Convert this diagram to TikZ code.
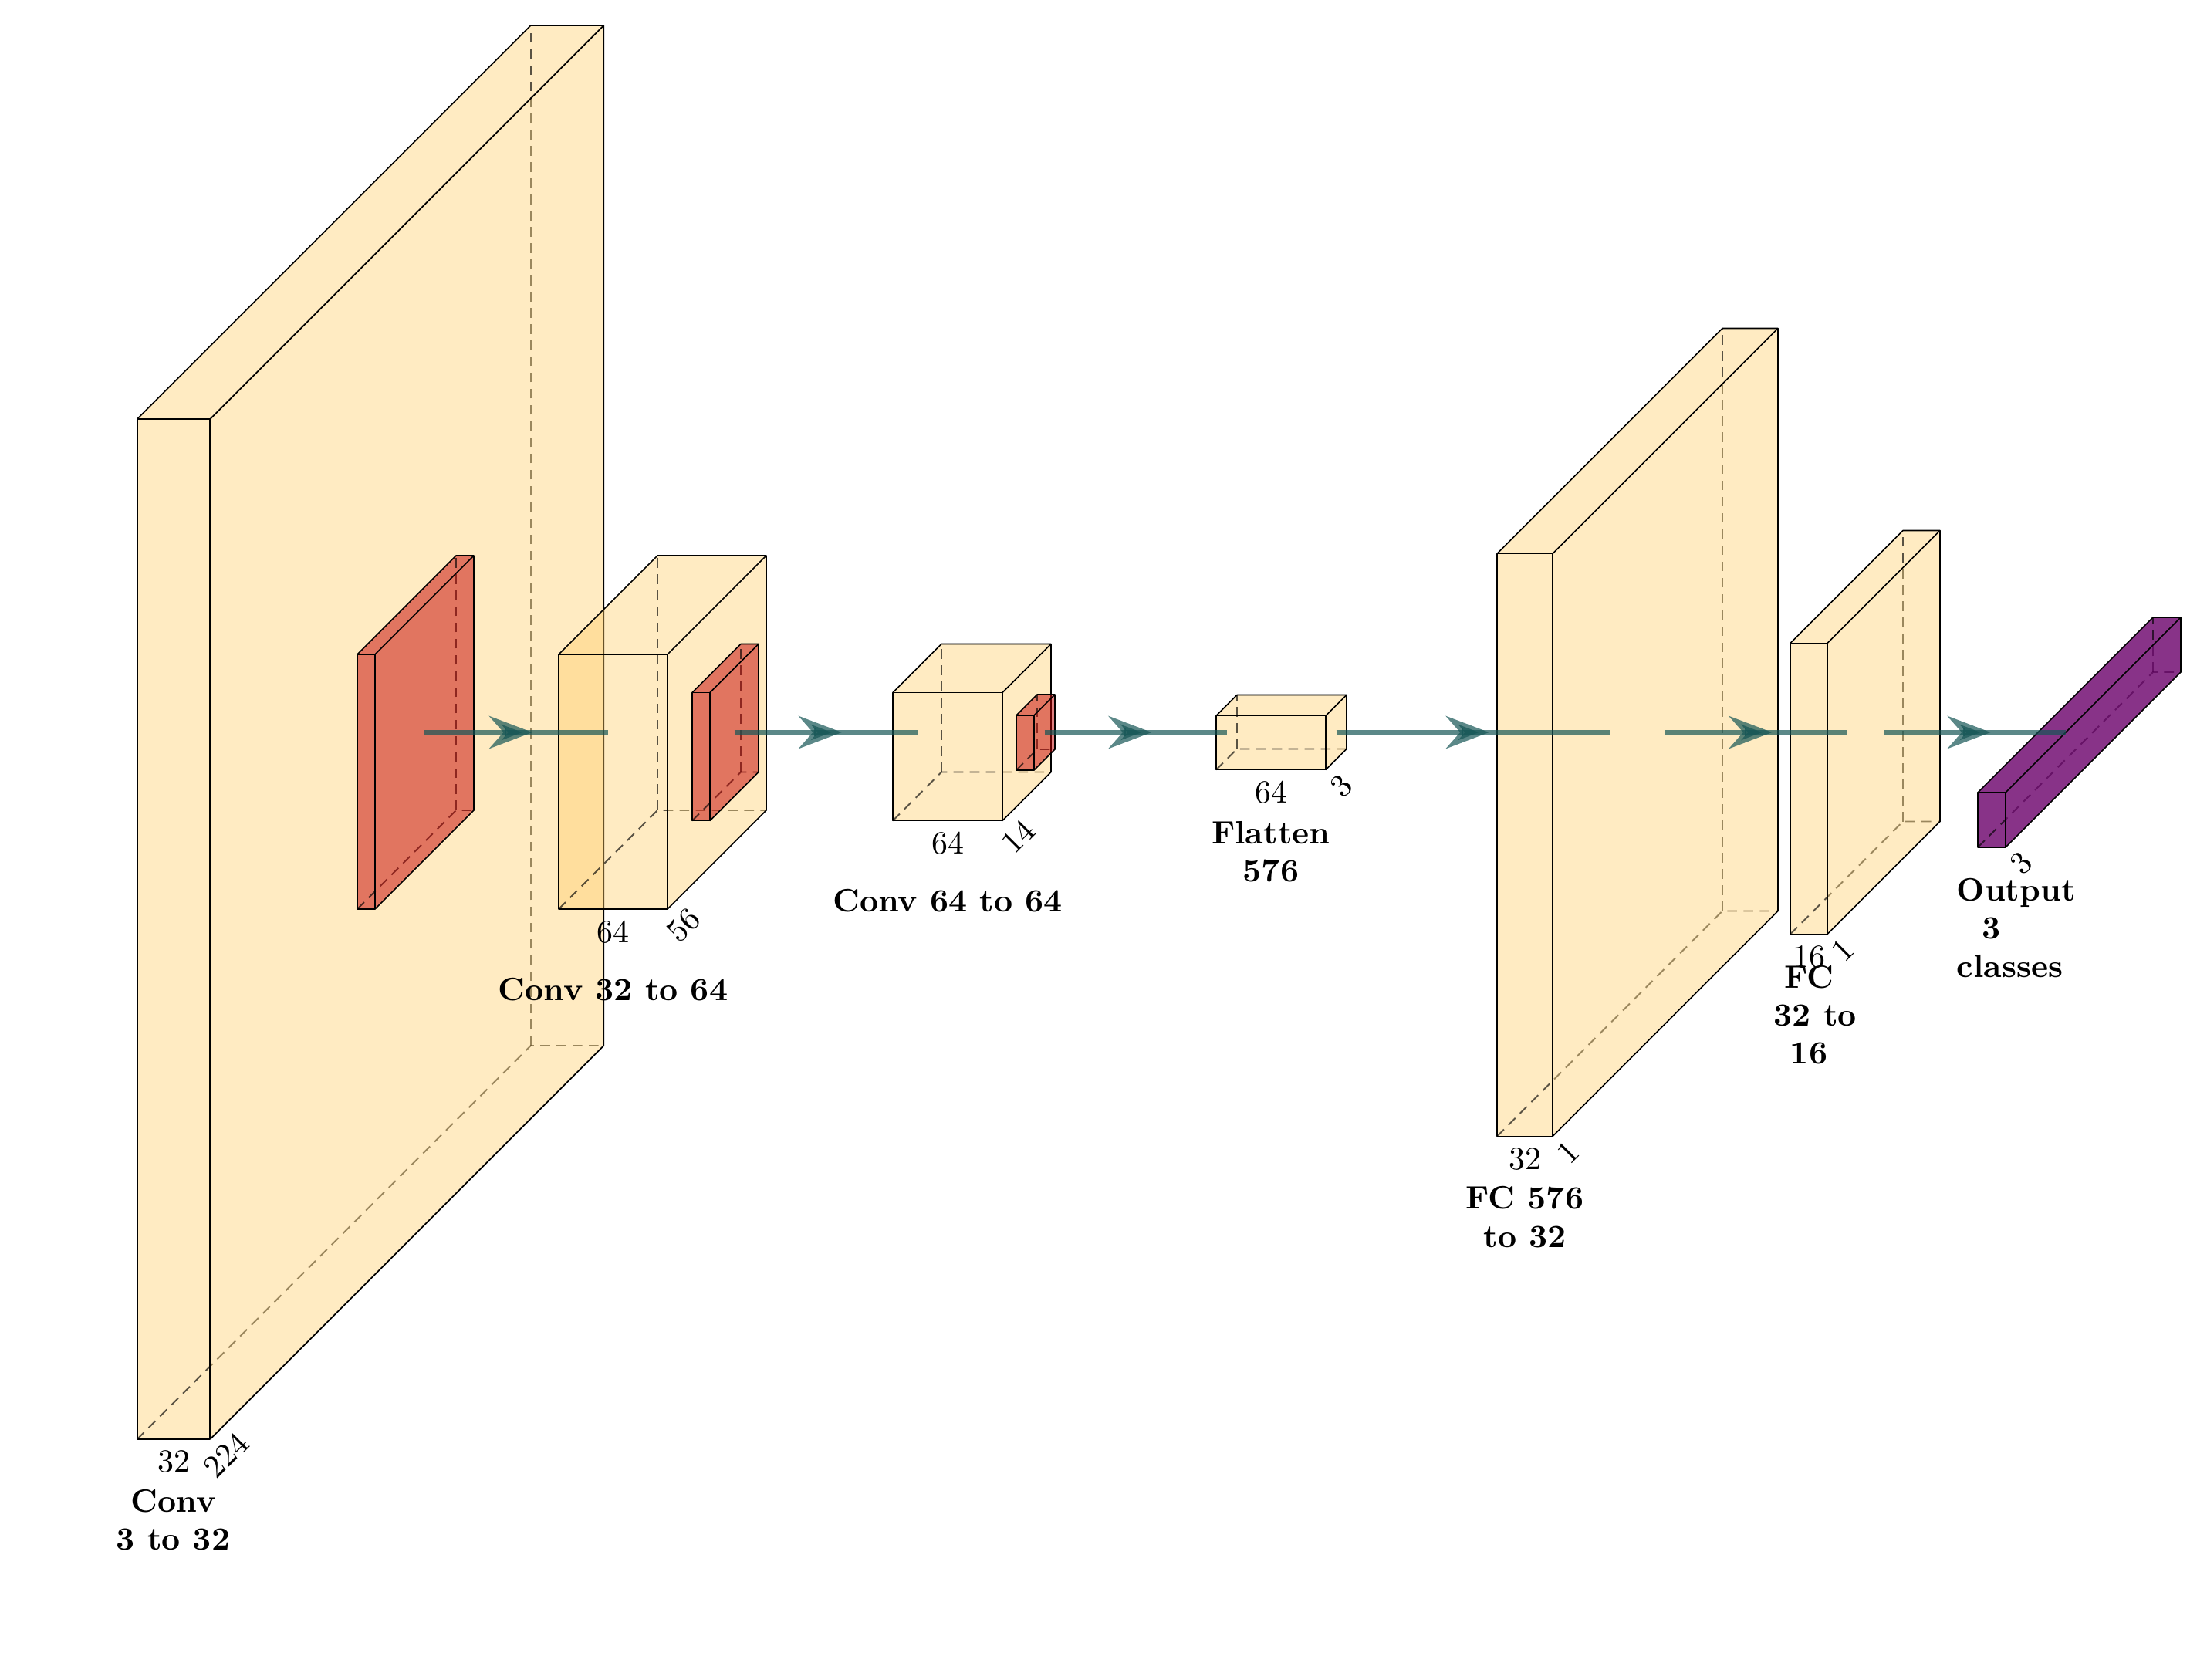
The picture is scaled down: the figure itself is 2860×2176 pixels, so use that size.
\documentclass[tikz,border=0pt]{standalone}
\usetikzlibrary{arrows.meta}
\definecolor{convcol}{rgb}{1,0.8,0.4}
\definecolor{poolcol}{rgb}{0.769,0,0}
\definecolor{softcol}{rgb}{0.4167,0,0.4167}
\definecolor{edgecol}{rgb}{0.0833,0.3333,0.3333}
\tikzset{
  boxedge/.style={draw=black, line width=0.4pt, line join=round},
  hiddenedge/.style={draw=black, densely dashed, opacity=0.65, line width=0.45pt},
  xlab/.style={anchor=north},
  zlab/.style={anchor=north, rotate=45},
  captxt/.style={anchor=base, font=\bfseries, inner sep=0pt},
  captleft/.style={anchor=base west, font=\bfseries, inner sep=0pt},
  conn/.style={draw=edgecol, ultra thick, opacity=0.7},
  midarr/.style={-{Stealth}, draw=edgecol, line width=0.8mm, opacity=0.7},
}
% name, center x, width, height, depth, colour, fill opacity
\newcommand{\nnbox}[7]{%
  \pgfmathsetmacro\nbL{#2-#3/2-#5/2}%
  \pgfmathsetmacro\nbR{#2+#3/2-#5/2}%
  \pgfmathsetmacro\nbT{949-#4/2+#5/2}%
  \pgfmathsetmacro\nbB{949+#4/2+#5/2}%
  \pgfmathsetmacro\nbLb{\nbL+#5}%
  \pgfmathsetmacro\nbRb{\nbR+#5}%
  \pgfmathsetmacro\nbTb{\nbT-#5}%
  \pgfmathsetmacro\nbBb{\nbB-#5}%
  \pgfmathsetmacro\nbC{#2-#5/2}%
  \pgfmathsetmacro\nbE{#2+#3/2}%
  \pgfmathsetmacro\nbW{#2-#3/2}%
  \coordinate (#1-fbl) at (\nbL,\nbB);
  \coordinate (#1-fbr) at (\nbR,\nbB);
  \coordinate (#1-ftr) at (\nbR,\nbT);
  \coordinate (#1-ftl) at (\nbL,\nbT);
  \coordinate (#1-bbl) at (\nbLb,\nbBb);
  \coordinate (#1-bbr) at (\nbRb,\nbBb);
  \coordinate (#1-btr) at (\nbRb,\nbTb);
  \coordinate (#1-btl) at (\nbLb,\nbTb);
  \coordinate (#1-fbc) at (\nbC,\nbB);
  \coordinate (#1-east) at (\nbE,949);
  \coordinate (#1-west) at (\nbW,949);
  \fill[#6, fill opacity=#7] (#1-fbl) -- (#1-fbr) -- (#1-ftr) -- (#1-ftl) -- cycle;
  \fill[#6, fill opacity=#7] (#1-ftl) -- (#1-ftr) -- (#1-btr) -- (#1-btl) -- cycle;
  \draw[hiddenedge] (#1-fbl) -- (#1-bbl) -- (#1-bbr);
  \draw[hiddenedge] (#1-bbl) -- (#1-btl);
  \fill[#6, fill opacity=#7] (#1-fbr) -- (#1-bbr) -- (#1-btr) -- (#1-ftr) -- cycle;
  \draw[boxedge] (#1-fbl) -- (#1-fbr) -- (#1-ftr) -- (#1-ftl) -- cycle;
  \draw[boxedge] (#1-ftl) -- (#1-btl) -- (#1-btr) -- (#1-bbr) -- (#1-fbr);
  \draw[boxedge] (#1-ftr) -- (#1-btr);
}
\begin{document}
\begin{tikzpicture}[x=0.2385pt, y=-0.2385pt]
\useasboundingbox (0,0) rectangle (2860,2176);

\nnbox{conv1}{480}{94.6}{1322}{510}{convcol}{0.4}
\nnbox{pool1}{538.5}{23}{330}{128}{poolcol}{0.5}
\nnbox{conv2}{858.5}{141}{330}{128}{convcol}{0.4}
\nnbox{pool2}{940}{23}{166}{63}{poolcol}{0.5}
\nnbox{conv3}{1259.5}{142}{166}{63}{convcol}{0.4}
\nnbox{pool3}{1342}{23}{71}{27}{poolcol}{0.5}
\nnbox{flat}{1660.5}{142}{70}{27}{convcol}{0.4}
\nnbox{fc1}{2122}{72}{755}{292}{convcol}{0.4}
\nnbox{fc2}{2417}{48}{377}{146}{convcol}{0.4}
\nnbox{out}{2694.5}{36}{71}{227}{softcol}{0.8}

% dimension labels
\node[xlab] (conv1-xl) at (conv1-fbc) {32};
\node[zlab] (conv1-zl) at (conv1-fbr) {224};
\node[xlab] (conv2-xl) at (conv2-fbc) {64};
\node[zlab] (conv2-zl) at (conv2-fbr) {56};
\node[xlab] (conv3-xl) at (conv3-fbc) {64};
\node[zlab] (conv3-zl) at (conv3-fbr) {14};
\node[xlab] (flat-xl) at (flat-fbc) {64};
\node[zlab] (flat-zl) at (flat-fbr) {3};
\node[xlab] (fc1-xl) at (fc1-fbc) {32};
\node[zlab] (fc1-zl) at (fc1-fbr) {1};
\node[xlab] (fc2-xl) at (fc2-fbc) {16};
\node[zlab] (fc2-zl) at (fc2-fbr) {1};
\node[zlab] (out-zl) at (out-fbr) {3};

% captions
\node[captxt] (cap1a) at (224.5,1959) {Conv};
\node[captxt] (cap1b) at (224.5,2008) {3 to 32};
\node[captxt] (cap2) at (794.5,1296) {Conv 32 to 64};
\node[captxt] (cap3) at (1228,1181) {Conv 64 to 64};
\node[captxt] (cap4a) at (1647,1093) {Flatten};
\node[captxt] (cap4b) at (1647,1142) {576};
\node[captxt] (cap5a) at (1976,1566) {FC 576};
\node[captxt] (cap5b) at (1976,1616) {to 32};
\node[captxt] (cap6a) at (2344,1280) {FC};
\node[captleft] (cap6b) at (2298,1329) {32 to};
\node[captxt] (cap6c) at (2344,1378) {16};
\node[captleft] (cap7a) at (2535,1167) {Output};
\node[captxt] (cap7b) at (2581,1216) {3};
\node[captleft] (cap7c) at (2535,1266) {classes};

% connections
\draw[conn] (pool1-east) -- coordinate[midway] (m1) (conv2-west);
\draw[conn] (pool2-east) -- coordinate[midway] (m2) (conv3-west);
\draw[conn] (pool3-east) -- coordinate[midway] (m3) (flat-west);
\draw[conn] (flat-east) -- coordinate[midway] (m4) (fc1-west);
\draw[conn] (fc1-east) -- coordinate[midway] (m5) (fc2-west);
\draw[conn] (fc2-east) -- coordinate[midway] (m6) (out-west);
\foreach \m in {m1,m2,m3,m4,m5,m6}{
  \draw[midarr] ([xshift=-3.5pt]\m) -- ([xshift=5pt]\m);
}
\end{tikzpicture}
\end{document}
